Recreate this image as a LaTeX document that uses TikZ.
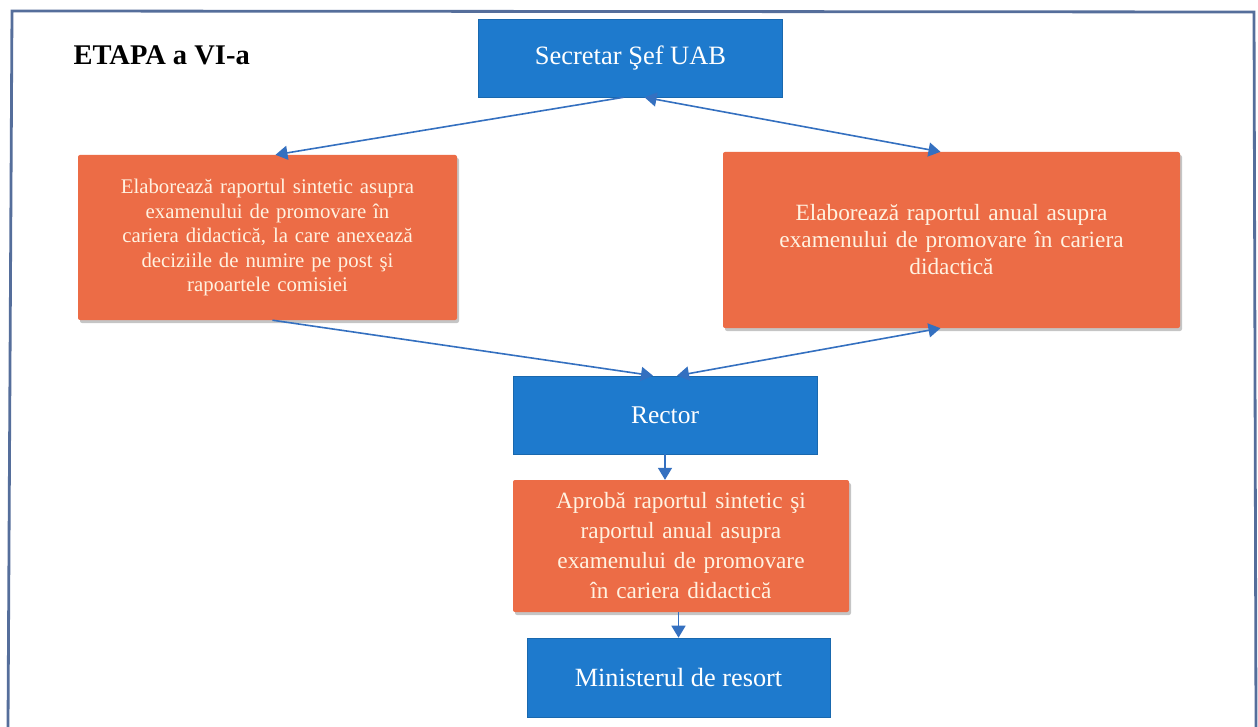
\documentclass[tikz,border=0pt]{standalone}
\usepackage{fontspec}
\setmainfont{Liberation Serif}
\usetikzlibrary{arrows.meta,shadows}
\definecolor{boxblue}{RGB}{30,122,205}
\definecolor{boxorange}{RGB}{236,108,70}
\definecolor{framecol}{RGB}{85,110,155}
\definecolor{arrowcol}{RGB}{52,112,192}
\definecolor{cream}{RGB}{255,242,225}
\begin{document}
\begin{tikzpicture}[x=1pt,y=-1pt,
  bluebox/.style={draw=boxblue!85!black,line width=0.6pt,fill=boxblue,text=white,inner sep=0pt,align=center},
  orangebox/.style={fill=boxorange,text=cream,rounded corners=2pt,inner sep=0pt,align=center,
     drop shadow={opacity=0.45,shadow xshift=2pt,shadow yshift=-3pt}},
  conn/.style={draw=arrowcol,line width=1.6pt,-{Triangle[length=12pt,width=14pt]}},
  conn2/.style={draw=arrowcol,line width=1.6pt,{Triangle[length=12pt,width=14pt]}-{Triangle[length=12pt,width=14pt]}}]
\useasboundingbox (0,0) rectangle (1258,727);
\fill[white] (0,0) rectangle (1258,727);
\coordinate (f1) at (8,727);
\coordinate (f2) at (12,11);
\coordinate (f3) at (1254,12);
\coordinate (f4) at (1256,727);
\draw[framecol,line width=2.8pt] (f1) -- (f2) -- (f3) -- (f4);
\node[anchor=west,font=\bfseries\fontsize{28.5}{32}\selectfont] (title) at (70,55) {ETAPA a VI-a};
\node[bluebox,minimum width=304,minimum height=78,font=\fontsize{26.5}{30}\selectfont] (sec) at (630.5,58) {Secretar Şef UAB};
\node[orangebox,minimum width=379,minimum height=165,text width=360,font=\fontsize{20.8}{24.5}\selectfont] (left) at (267.5,237.5) {Elaborează raportul sintetic asupra\\examenului de promovare în\\cariera didactică, la care anexează\\deciziile de numire pe post şi\\rapoartele comisiei};
\node[orangebox,minimum width=457,minimum height=176,text width=440,font=\fontsize{23.3}{27}\selectfont] (right) at (951.5,240) {Elaborează raportul anual asupra\\examenului de promovare în cariera\\didactică};
\node[bluebox,minimum width=304,minimum height=78,font=\fontsize{25.5}{30}\selectfont] (rector) at (665,415) {Rector};
\node[orangebox,minimum width=336,minimum height=132,text width=320,font=\fontsize{23.3}{30}\selectfont] (aproba) at (681,546) {Aprobă raportul sintetic şi\\raportul anual asupra\\examenului de promovare\\în cariera didactică};
\node[bluebox,minimum width=303,minimum height=79,font=\fontsize{26.3}{30}\selectfont] (min) at (678.5,677.5) {Ministerul de resort};
\draw[conn] ([xshift=-7]sec.south) -- ([xshift=8]left.north);
\draw[conn2] ([xshift=14]sec.south) -- ([xshift=-11]right.north);
\draw[conn] ([xshift=5]left.south) -- ([xshift=-12]rector.north);
\draw[conn2] ([xshift=-11]right.south) -- ([xshift=12]rector.north);
\draw[conn] (rector.south) -- (rector.south |- aproba.north);
\draw[conn] (aproba.south -| min.north) -- (min.north);
\end{tikzpicture}
\end{document}
